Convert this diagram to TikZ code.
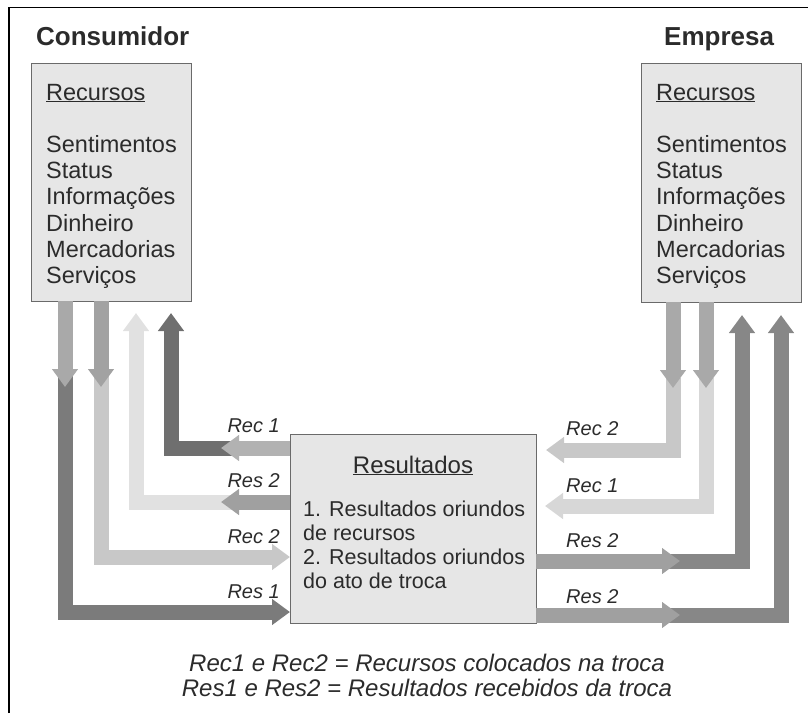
\documentclass[tikz,border=0pt]{standalone}
\usepackage{fontspec}
\setmainfont{Liberation Sans}
\usetikzlibrary{arrows.meta}
\definecolor{txt}{HTML}{2B2B2B}
\definecolor{boxfill}{HTML}{E6E6E6}
\definecolor{boxline}{HTML}{6A6A6A}
\definecolor{gA}{HTML}{A9A9A9}
\definecolor{gB}{HTML}{A2A2A2}
\definecolor{gDark}{HTML}{7B7B7B}
\definecolor{gDarker}{HTML}{6F6F6F}
\definecolor{gLight}{HTML}{C8C8C8}
\definecolor{gVLight}{HTML}{E1E1E1}
\definecolor{gMid}{HTML}{A0A0A0}
\definecolor{gRec}{HTML}{B2B2B2}
\definecolor{gRLight}{HTML}{D7D7D7}
\definecolor{gRDark}{HTML}{878787}
\begin{document}
\begin{tikzpicture}[x=1pt,y=-1pt,
  panel/.style={draw=boxline, fill=boxfill, line width=1pt, inner sep=0pt, anchor=north west},
  fat/.style={line width=15pt, line join=miter, -{Triangle[length=18pt,width=25pt]}},
  title/.style={anchor=base west, inner sep=0pt, text=txt, font={\fontsize{26}{30}\selectfont\bfseries}},
  list/.style={anchor=base west, inner sep=0pt, text=txt, align=left, font={\fontsize{23.5}{26.2}\selectfont}},
  lab/.style={inner sep=0pt, text=txt, font={\fontsize{20}{24}\selectfont\itshape}},
]
\useasboundingbox (0,0) rectangle (808,713);
% frame
\draw[line width=1.5pt, black] (9,713) -- (9,7.5) -- (808,7.5);

% titles
\node[title] (tcons) at (36,45) {Consumidor};
\node[title] (temp) at (664,45) {Empresa};

% boxes
\node[panel, minimum width=160pt, minimum height=238pt] (cbox) at (31,63) {};
\node[panel, minimum width=160pt, minimum height=239pt] (ebox) at (641,63) {};
\node[panel, minimum width=246pt, minimum height=189pt] (rbox) at (290,434) {};

% (base anchor of a multi-line node = baseline of its last line)
\node[list] (clist) at (46,283.4) {\underline{Recursos}\\[26.2pt]Sentimentos\\Status\\Informações\\Dinheiro\\Mercadorias\\Serviços};
\node[list] (elist) at (656,283.4) {\underline{Recursos}\\[26.2pt]Sentimentos\\Status\\Informações\\Dinheiro\\Mercadorias\\Serviços};

\node[anchor=base, inner sep=0pt, text=txt, font={\fontsize{24}{28}\selectfont}] (rtitle) at (413,473) {\underline{Resultados}};
\node[anchor=base west, inner sep=0pt, text=txt, align=left, font={\fontsize{21.5}{24}\selectfont}] (rlist) at (303,588)
  {1. Resultados oriundos\\de recursos\\2. Resultados oriundos\\do ato de troca};

% coordinates - left side
\coordinate (l1top) at (65,301);   \coordinate (l1tip) at (65,387);
\coordinate (l1s) at (65,375);     \coordinate (l1c) at (65,612);   \coordinate (l1e) at (290,612);
\coordinate (l2top) at (101,301);  \coordinate (l2tip) at (101,387);
\coordinate (l2s) at (101,375);    \coordinate (l2c) at (101,557);  \coordinate (l2e) at (290,557);
\coordinate (l3s) at (232,502);    \coordinate (l3c) at (136,502);  \coordinate (l3tip) at (136,313);
\coordinate (l3b) at (290,502);    \coordinate (l3h) at (221,502);
\coordinate (l4s) at (232,448);    \coordinate (l4c) at (171,448);  \coordinate (l4tip) at (171,313);
\coordinate (l4b) at (290,448);    \coordinate (l4h) at (221,448);

% coordinates - right side
\coordinate (r1top) at (673,302);  \coordinate (r1tip) at (673,388);
\coordinate (r1s) at (673,378);    \coordinate (r1c) at (673,450);  \coordinate (r1e) at (546,450);
\coordinate (r2top) at (706,302);  \coordinate (r2tip) at (706,388);
\coordinate (r2s) at (706,378);    \coordinate (r2c) at (706,506);  \coordinate (r2e) at (545,506);
\coordinate (r3b) at (536,561);    \coordinate (r3h) at (680,561);
\coordinate (r3s) at (668,561);    \coordinate (r3c) at (742,561);  \coordinate (r3tip) at (742,315);
\coordinate (r4b) at (536,615);    \coordinate (r4h) at (680,615);
\coordinate (r4s) at (668,615);    \coordinate (r4c) at (781,615);  \coordinate (r4tip) at (781,315);

% left arrows
\draw[fat, gDark] (l1s) -- (l1c) -- (l1e);
\draw[fat, gA] (l1top) -- (l1tip);
\draw[fat, gLight] (l2s) -- (l2c) -- (l2e);
\draw[fat, gB] (l2top) -- (l2tip);
\draw[fat, gVLight] (l3s) -- (l3c) -- (l3tip);
\draw[fat, gMid] (l3b) -- (l3h);
\draw[fat, gDarker] (l4s) -- (l4c) -- (l4tip);
\draw[fat, gRec] (l4b) -- (l4h);

% right arrows
\draw[fat, gLight] (r1s) -- (r1c) -- (r1e);
\draw[fat, gA] (r1top) -- (r1tip);
\draw[fat, gRLight] (r2s) -- (r2c) -- (r2e);
\draw[fat, gA] (r2top) -- (r2tip);
\draw[fat, gRDark] (r3s) -- (r3c) -- (r3tip);
\draw[fat, gMid] (r3b) -- (r3h);
\draw[fat, gRDark] (r4s) -- (r4c) -- (r4tip);
\draw[fat, gMid] (r4b) -- (r4h);

% labels
\node[lab, anchor=base east] (lrec1) at (280,432) {Rec 1};
\node[lab, anchor=base east] (lres2) at (280,487) {Res 2};
\node[lab, anchor=base east] (lrec2) at (280,543) {Rec 2};
\node[lab, anchor=base east] (lres1) at (280,598) {Res 1};
\node[lab, anchor=base west] (rrec2) at (566,435) {Rec 2};
\node[lab, anchor=base west] (rrec1) at (566,492) {Rec 1};
\node[lab, anchor=base west] (rres2a) at (566,547) {Res 2};
\node[lab, anchor=base west] (rres2b) at (566,603) {Res 2};

% legend
\node[anchor=base, inner sep=0pt, text=txt, align=center, font={\fontsize{24}{25}\selectfont\itshape}] (legend) at (427,696)
  {Rec1 e Rec2 = Recursos colocados na troca\\Res1 e Res2 = Resultados recebidos da troca};
\end{tikzpicture}
\end{document}
